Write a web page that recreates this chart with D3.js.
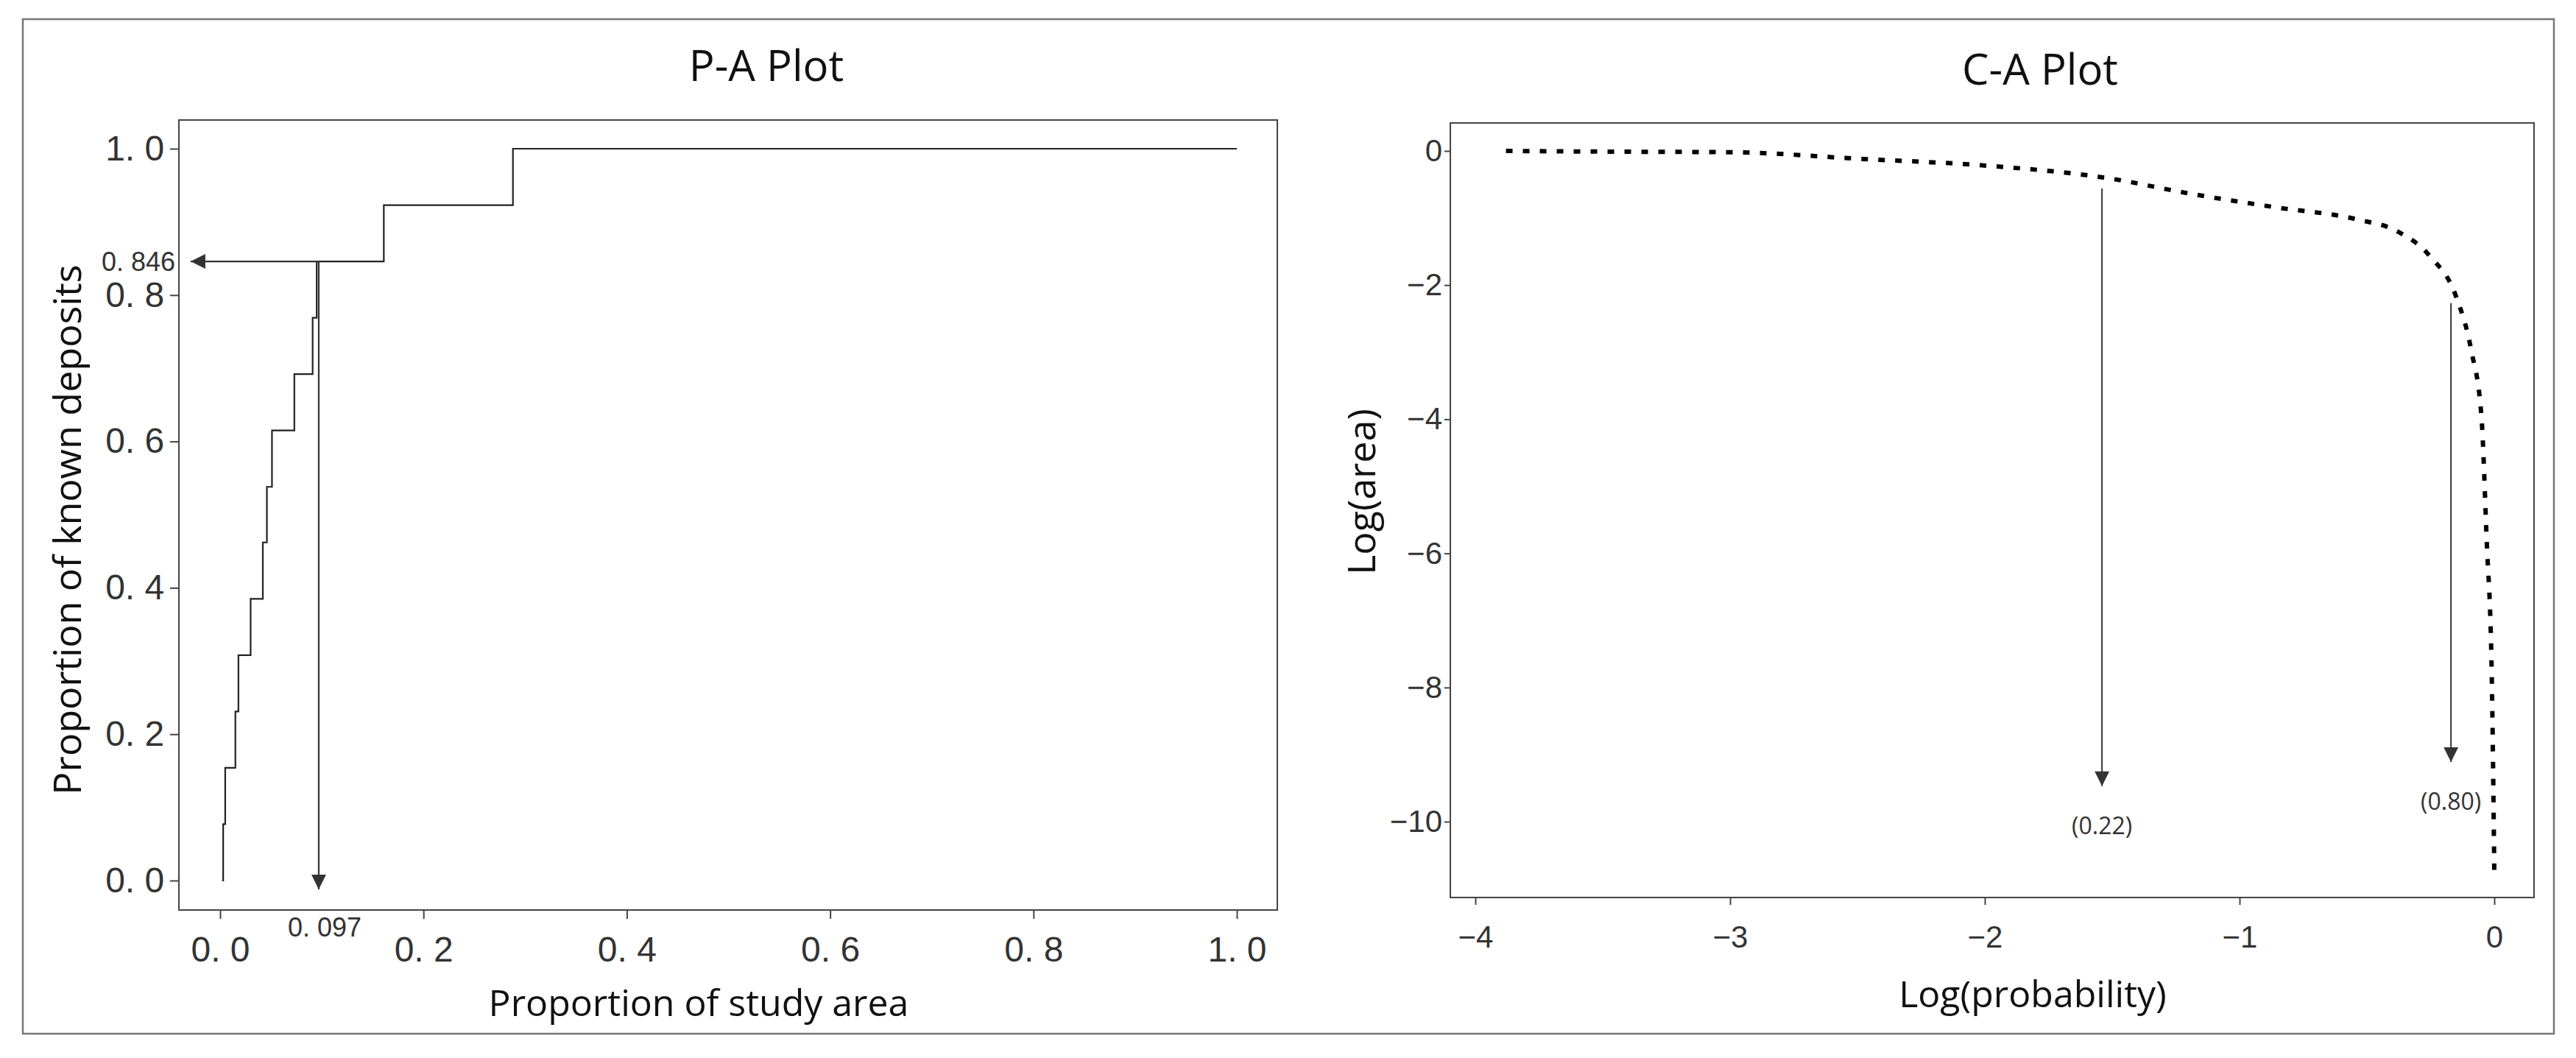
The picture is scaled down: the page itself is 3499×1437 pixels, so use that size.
<!DOCTYPE html>
<html><head><meta charset="utf-8">
<script src="https://cdn.jsdelivr.net/npm/d3@7"></script>
<style>body{margin:0;background:#fff}svg{display:block}</style>
</head><body>
<script>
// P-A plot data (step function)
const paX = [0.003, 0.005, 0.015, 0.018, 0.030, 0.042, 0.046, 0.051, 0.073, 0.091, 0.095, 0.161, 0.288, 1.0];
const paY = [0.077, 0.154, 0.231, 0.308, 0.385, 0.462, 0.538, 0.615, 0.692, 0.769, 0.846, 0.923, 1.0, 1.0];
const paStartX = 0.002;
const paXTicks = [0, 0.2, 0.4, 0.6, 0.8, 1.0];
const paYTicks = [0, 0.2, 0.4, 0.6, 0.8, 1.0];
const paMark = {x: 0.097, y: 0.846};

// C-A plot data
const caX = [-3.88, -3.5, -2.99, -2.48, -1.99, -1.51, -1.19, -0.86, -0.54, -0.38, -0.25, -0.15, -0.09, -0.05, -0.03, -0.01, 0.0];
const caY = [0.0, -0.01, -0.02, -0.12, -0.22, -0.41, -0.64, -0.84, -1.02, -1.2, -1.58, -2.17, -2.98, -3.98, -5.79, -7.8, -10.72];
const caXTicks = [-4, -3, -2, -1, 0];
const caYTicks = [0, -2, -4, -6, -8, -10];
const caArrows = [{x: -1.54, y0: -0.56, y1: -9.47, label: "(0.22)"}, {x: -0.17, y0: -2.27, y1: -9.11, label: "(0.80)"}];

const W = 3499, H = 1437;
const svg = d3.select("body").append("svg").attr("width", W).attr("height", H);
svg.append("rect").attr("x", 31).attr("y", 26).attr("width", 3469-31).attr("height", 1404-26)
  .attr("fill", "none").attr("stroke", "#777").attr("stroke-width", 2.5);

const defs = svg.append("defs");
defs.append("marker").attr("id", "ah2").attr("viewBox", "0 0 10 10").attr("refX", 10).attr("refY", 5)
  .attr("markerWidth", 22).attr("markerHeight", 20).attr("markerUnits", "userSpaceOnUse")
  .attr("orient", "auto").append("path").attr("d", "M0,0L10,5L0,10Z").attr("fill", "#333");

const tickFont = "'Liberation Sans Narrow','Liberation Sans',sans-serif";
const labFont = "'Open Sans',sans-serif";

// ---------- P-A ----------
{
  const L = 243, R = 1735, T = 163, B = 1236;
  const x = d3.scaleLinear().domain([0, 1]).range([299, 1680]);
  const y = d3.scaleLinear().domain([0, 1]).range([1196, 202]);
  const g = svg.append("g");
  g.append("rect").attr("x", L).attr("y", T).attr("width", R-L).attr("height", B-T)
    .attr("fill", "none").attr("stroke", "#444").attr("stroke-width", 2);
  const xa = g.append("g").attr("transform", `translate(0,${B})`)
    .call(d3.axisBottom(x).tickValues(paXTicks).tickSize(12).tickFormat(d => d3.format(".1f")(d).replace(".", ". ")));
  const ya = g.append("g").attr("transform", `translate(${L},0)`)
    .call(d3.axisLeft(y).tickValues(paYTicks).tickSize(12).tickFormat(d => d3.format(".1f")(d).replace(".", ". ")));
  [xa, ya].forEach(a => { a.select(".domain").remove(); a.selectAll("line").attr("stroke", "#444").attr("stroke-width", 2);
    a.selectAll("text").attr("font-family", tickFont).attr("font-size", 48).attr("fill", "#333"); });
  xa.selectAll("text").attr("dy", "1.15em");
  ya.selectAll("text").attr("dx", "-0.1em");

  const pts = [[paStartX, 0]];
  let prev = 0;
  paX.forEach((xv, i) => { pts.push([xv, prev]); pts.push([xv, paY[i]]); prev = paY[i]; });
  g.append("path").attr("d", d3.line().x(d => x(d[0])).y(d => y(d[1]))(pts))
    .attr("fill", "none").attr("stroke", "#222").attr("stroke-width", 2.2);

  g.append("line").attr("x1", x(paMark.x)).attr("y1", y(paMark.y)).attr("x2", x(paMark.x)).attr("y2", y(-0.012))
    .attr("stroke", "#333").attr("stroke-width", 2.2).attr("marker-end", "url(#ah2)");
  g.append("line").attr("x1", x(paMark.x)).attr("y1", y(paMark.y)).attr("x2", x(-0.029)).attr("y2", y(paMark.y))
    .attr("stroke", "#333").attr("stroke-width", 2.2).attr("marker-end", "url(#ah2)");
  g.append("text").attr("x", 238).attr("y", y(paMark.y)).attr("dy", "0.35em").attr("text-anchor", "end")
    .attr("font-family", tickFont).attr("font-size", 36).attr("fill", "#333").text("0. 846");
  g.append("text").attr("x", 441).attr("y", 1272).attr("text-anchor", "middle")
    .attr("font-family", tickFont).attr("font-size", 36).attr("fill", "#333").text("0. 097");

  g.append("text").attr("x", 1041).attr("y", 110).attr("text-anchor", "middle")
    .attr("font-family", labFont).attr("font-size", 58).attr("fill", "#111").text("P-A Plot");
  g.append("text").attr("x", 949).attr("y", 1380).attr("text-anchor", "middle")
    .attr("font-family", labFont).attr("font-size", 50).attr("fill", "#111").text("Proportion of study area");
  g.append("text").attr("transform", `translate(110,${(T+B)/2+20}) rotate(-90)`).attr("text-anchor", "middle")
    .attr("font-family", labFont).attr("font-size", 52).attr("fill", "#111").text("Proportion of known deposits");
}

// ---------- C-A ----------
{
  const L = 1970, R = 3442, T = 167, B = 1219;
  const x = d3.scaleLinear().domain([-4, 0]).range([2004, 3388]);
  const y = d3.scaleLinear().domain([0, -10]).range([205, 1116]);
  const g = svg.append("g");
  g.append("rect").attr("x", L).attr("y", T).attr("width", R-L).attr("height", B-T)
    .attr("fill", "none").attr("stroke", "#444").attr("stroke-width", 2);
  const xa = g.append("g").attr("transform", `translate(0,${B})`)
    .call(d3.axisBottom(x).tickValues(caXTicks).tickSize(10).tickFormat(d => d3.format("d")(d).replace("-", "\u2212")));
  const ya = g.append("g").attr("transform", `translate(${L},0)`)
    .call(d3.axisLeft(y).tickValues(caYTicks).tickSize(8).tickFormat(d => d3.format("d")(d).replace("-", "\u2212")));
  [xa, ya].forEach(a => { a.select(".domain").remove(); a.selectAll("line").attr("stroke", "#444").attr("stroke-width", 2);
    a.selectAll("text").attr("font-family", tickFont).attr("font-size", 42).attr("fill", "#333"); });
  xa.selectAll("text").attr("dy", "1.3em");

  g.append("path").datum(caX.map((v, i) => [v, caY[i]]))
    .attr("d", d3.line().x(d => x(d[0])).y(d => y(d[1])).curve(d3.curveMonotoneX))
    .attr("fill", "none").attr("stroke", "#000").attr("stroke-width", 6).attr("stroke-dasharray", "9,14");

  caArrows.forEach(a => {
    g.append("line").attr("x1", x(a.x)).attr("y1", y(a.y0)).attr("x2", x(a.x)).attr("y2", y(a.y1))
      .attr("stroke", "#333").attr("stroke-width", 2).attr("marker-end", "url(#ah2)");
    g.append("text").attr("x", x(a.x)).attr("y", y(a.y1) + 65).attr("text-anchor", "middle")
      .attr("font-family", labFont).attr("font-size", 32).attr("fill", "#333").text(a.label);
  });

  g.append("text").attr("x", 2771).attr("y", 115).attr("text-anchor", "middle")
    .attr("font-family", labFont).attr("font-size", 58).attr("fill", "#111").text("C-A Plot");
  g.append("text").attr("x", 2761).attr("y", 1368).attr("text-anchor", "middle")
    .attr("font-family", labFont).attr("font-size", 50).attr("fill", "#111").text("Log(probability)");
  g.append("text").attr("transform", `translate(1868,${(T+B)/2-25}) rotate(-90)`).attr("text-anchor", "middle")
    .attr("font-family", labFont).attr("font-size", 52).attr("fill", "#111").text("Log(area)");
}
</script>
</body></html>
